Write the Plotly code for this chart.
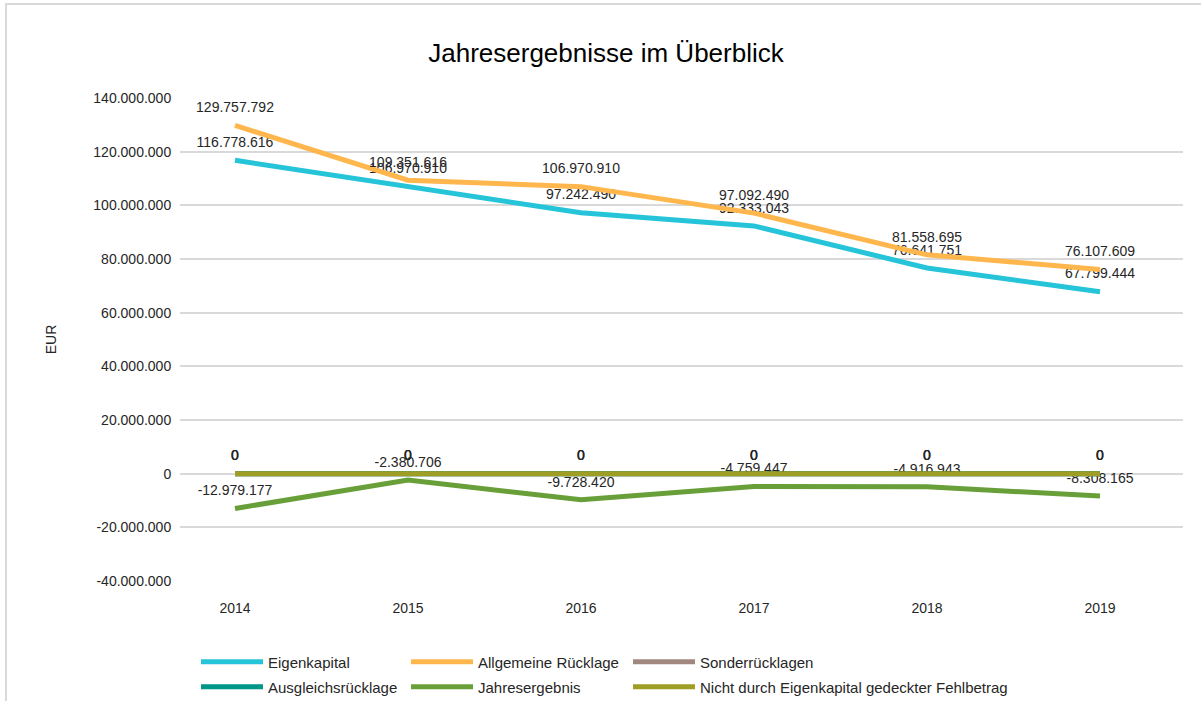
import plotly.graph_objects as go

years = ["2014", "2015", "2016", "2017", "2018", "2019"]
eigenkapital = [116778616, 106970910, 97242490, 92333043, 76641751, 67799444]
allgemeine_ruecklage = [129757792, 109351616, 106970910, 97092490, 81558695, 76107609]
sonderruecklagen = [0, 0, 0, 0, 0, 0]
ausgleichsruecklage = [0, 0, 0, 0, 0, 0]
jahresergebnis = [-12979177, -2380706, -9728420, -4759447, -4916943, -8308165]
fehlbetrag = [0, 0, 0, 0, 0, 0]
y_ticks = [-40000000, -20000000, 0, 20000000, 40000000, 60000000,
           80000000, 100000000, 120000000, 140000000]

series = [
    ("Eigenkapital", eigenkapital, "#26C4D9", "legend", 0),
    ("Allgemeine Rücklage", allgemeine_ruecklage, "#FFB74D", "legend2", 1),
    ("Sonderrücklagen", sonderruecklagen, "#A1887F", "legend3", 2),
    ("Ausgleichsrücklage", ausgleichsruecklage, "#009688", "legend4", 0),
    ("Jahresergebnis", jahresergebnis, "#689F38", "legend5", 1),
    ("Nicht durch Eigenkapital gedeckter Fehlbetrag", fehlbetrag, "#9E9D24", "legend6", 2),
]

def fmt(v):
    s = f"{abs(v):,}".replace(",", ".")
    return ("-" if v < 0 else "") + s

FONT = "Liberation Sans, Arial, sans-serif"
TXT = "#262626"

# plot area in pixels
L, R, T, B = 180, 1183, 98, 581
W, H = 1201, 701
pw, ph = R - L, B - T

def px_x(x):
    return (x - L) / pw

def px_y(y):
    return (B - y) / ph

fig = go.Figure()
xnum = list(range(len(years)))
for name, vals, color, leg, col in series:
    fig.add_trace(go.Scatter(
        x=xnum, y=vals, name=name,
        mode="lines+markers+text",
        line=dict(color=color, width=5),
        marker=dict(size=14, color="rgba(0,0,0,0)", line=dict(width=0)),
        text=[fmt(v) for v in vals],
        textposition="top center",
        textfont=dict(family=FONT, size=14, color=TXT),
        cliponaxis=False,
        legend=leg,
    ))

col_x = [196, 406, 628]
row_y = [662, 687]
legend_defs = {}
for i, (name, vals, color, leg, col) in enumerate(series):
    row = 0 if i < 3 else 1
    legend_defs[leg] = dict(
        x=px_x(col_x[col]), y=px_y(row_y[row]), xanchor="left", yanchor="middle",
        xref="paper", yref="paper",
        bgcolor="rgba(0,0,0,0)",
        font=dict(family=FONT, size=15, color=TXT),
        itemwidth=62,
        visible=True,
    )

fig.update_layout(
    width=W, height=H,
    showlegend=True,
    margin=dict(l=L, r=W - R, t=T, b=H - B, autoexpand=False),
    paper_bgcolor="white", plot_bgcolor="white",
    title=dict(text="Jahresergebnisse im Überblick", x=606 / W, xanchor="center",
               y=1 - 53 / H, yanchor="middle",
               font=dict(family=FONT, size=26, color="#000000")),
    xaxis=dict(
        tickmode="array", tickvals=xnum, ticktext=years,
        range=[-(235 - L) / 173, 5 + (R - 1100) / 173],
        showgrid=False, zeroline=False, showline=False,
        ticks="outside", ticklen=14, tickcolor="rgba(0,0,0,0)",
        tickfont=dict(family=FONT, size=14, color=TXT),
    ),
    yaxis=dict(
        range=[-40000000, 140000000],
        tickmode="array",
        tickvals=y_ticks,
        ticktext=[fmt(v) for v in y_ticks],
        showgrid=True, gridcolor="#D9D9D9", gridwidth=1.5,
        zeroline=True, zerolinecolor="#D9D9D9", zerolinewidth=1.5,
        showline=False,
        ticks="outside", ticklen=5, tickcolor="rgba(0,0,0,0)",
        tickfont=dict(family=FONT, size=14, color=TXT),
        title=dict(text="EUR", standoff=33, font=dict(family=FONT, size=14, color=TXT)),
    ),
    **legend_defs,
    shapes=[
        dict(type="line", xref="paper", yref="paper",
             x0=px_x(5), x1=px_x(W + 5), y0=px_y(4), y1=px_y(4),
             line=dict(color="#D9D9D9", width=2)),
        dict(type="line", xref="paper", yref="paper",
             x0=px_x(6), x1=px_x(6), y0=px_y(4), y1=px_y(H + 5),
             line=dict(color="#D9D9D9", width=2)),
    ],
)

fig.write_html("out.html", config={"displayModeBar": False},
               post_script="document.body.style.margin='0';document.body.style.overflow='hidden';")
